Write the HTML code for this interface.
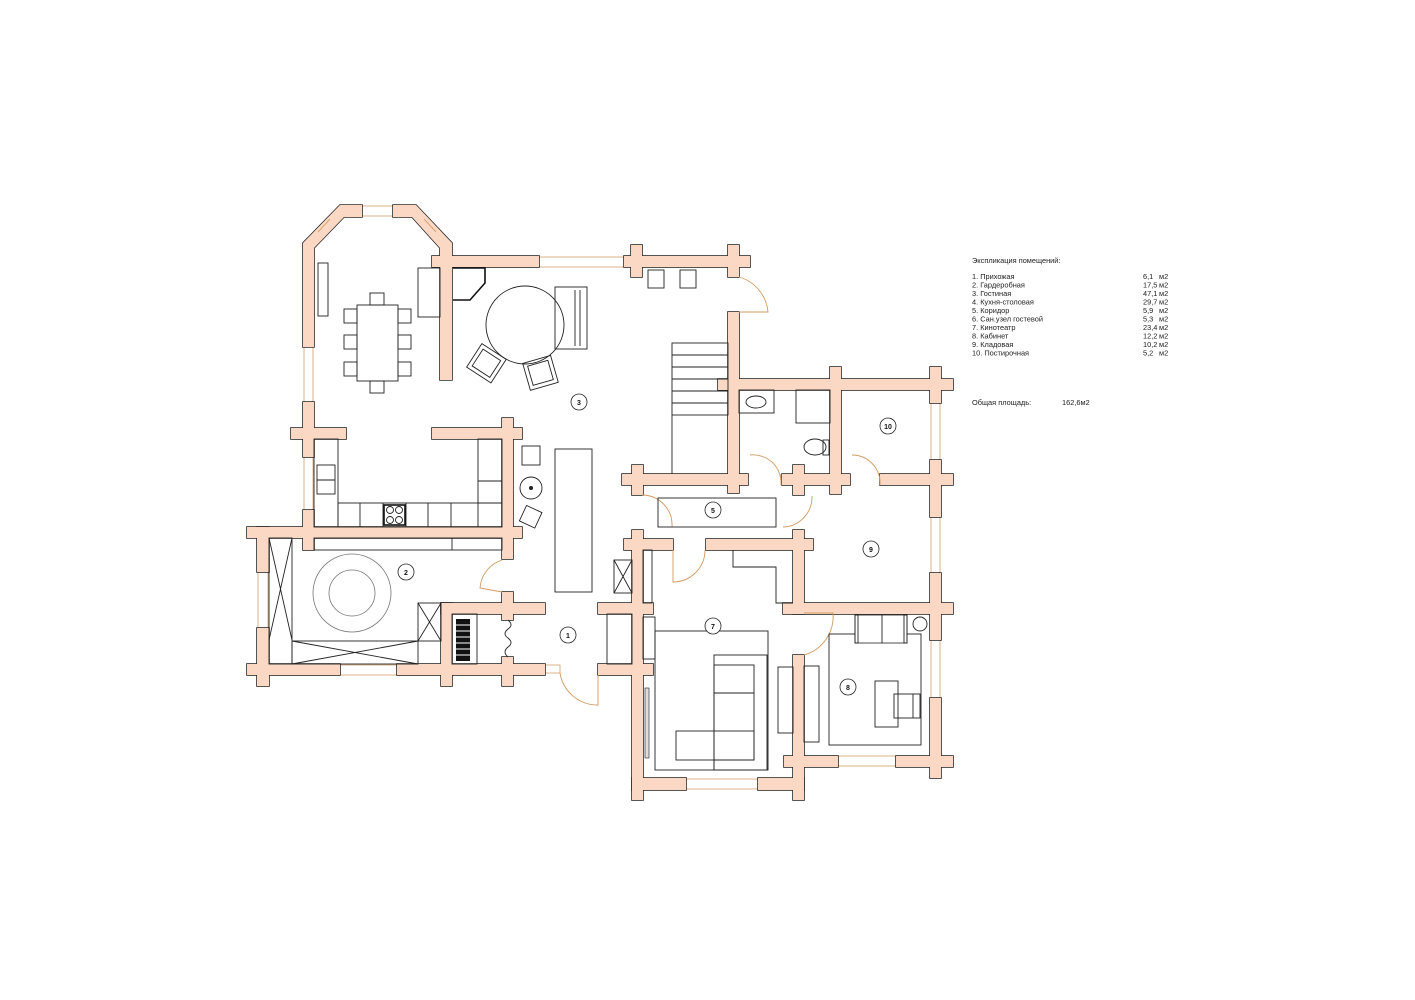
<!DOCTYPE html>
<html><head><meta charset="utf-8"><style>
html,body{margin:0;padding:0;background:#fff;width:1415px;height:1000px;overflow:hidden}
svg{position:absolute;left:0;top:0}
.win{fill:#fff;stroke:#d2a06a;stroke-width:0.8}
.l{fill:none;stroke:#222;stroke-width:0.9}
.t{fill:none;stroke:#111;stroke-width:1.6}
.d{fill:none;stroke:#d09a60;stroke-width:0.9}
.n{fill:#fff;stroke:#222;stroke-width:0.8}
.nt{font-family:"Liberation Sans",sans-serif;font-size:7px;font-weight:bold;fill:#111;text-anchor:middle}
.lg{font-family:"Liberation Sans","Noto Sans CJK SC",sans-serif;font-size:7.4px;fill:#222}
</style></head><body>
<svg width="1415" height="1000" viewBox="0 0 1415 1000">
<defs>
<g id="walls">
<polygon points="303,347 303,243 340,205 362,205 362,217 344,217 314,248 314,347"/>
<polygon points="393,205 416,205 452,243 452,380 440,380 440,248 412,217 393,217"/>
<rect x="303" y="402" width="11" height="55"/>
<rect x="291" y="428" width="55" height="11"/>
<rect x="303" y="510" width="11" height="40"/>
<rect x="432" y="256" width="107" height="11"/>
<rect x="624" y="256" width="126" height="11"/>
<rect x="631" y="245" width="11" height="32"/>
<rect x="728" y="245" width="11" height="32"/>
<rect x="728" y="312" width="11" height="181"/>
<rect x="718" y="379" width="235" height="11"/>
<rect x="830" y="367" width="11" height="127"/>
<rect x="930" y="367" width="11" height="36"/>
<rect x="930" y="460" width="11" height="57"/>
<rect x="930" y="573" width="11" height="67"/>
<rect x="930" y="698" width="11" height="80"/>
<rect x="622" y="474" width="126" height="11"/>
<rect x="632" y="465" width="11" height="30"/>
<rect x="782" y="474" width="68" height="11"/>
<rect x="793" y="465" width="11" height="30"/>
<rect x="880" y="474" width="73" height="11"/>
<rect x="624" y="539" width="49" height="11"/>
<rect x="706" y="539" width="107" height="11"/>
<rect x="793" y="530" width="11" height="84"/>
<rect x="783" y="603" width="170" height="11"/>
<rect x="632" y="530" width="11" height="270"/>
<rect x="598" y="603" width="55" height="11"/>
<rect x="598" y="664" width="55" height="11"/>
<rect x="632" y="778" width="54" height="12"/>
<rect x="758" y="778" width="46" height="12"/>
<rect x="793" y="655" width="11" height="145"/>
<rect x="784" y="756" width="54" height="11"/>
<rect x="896" y="756" width="57" height="11"/>
<rect x="432" y="428" width="90" height="11"/>
<rect x="502" y="418" width="11" height="141"/>
<rect x="247" y="527" width="275" height="11"/>
<rect x="257" y="527" width="12" height="45"/>
<rect x="257" y="628" width="12" height="58"/>
<rect x="247" y="664" width="93" height="11"/>
<rect x="397" y="664" width="148" height="11"/>
<rect x="441" y="603" width="11" height="83"/>
<rect x="441" y="603" width="104" height="11"/>
<rect x="502" y="592" width="11" height="28"/>
<rect x="502" y="657" width="11" height="29"/>
</g>
</defs>
<rect class="win" x="304" y="347" width="9" height="56"/>
<rect class="win" x="304" y="456" width="9" height="55"/>
<rect class="win" x="362" y="206" width="31" height="10"/>
<rect class="win" x="538" y="257" width="87" height="10"/>
<rect class="win" x="258" y="572" width="10" height="56"/>
<rect class="win" x="340" y="665" width="57" height="10"/>
<rect class="win" x="931" y="403" width="9" height="57"/>
<rect class="win" x="931" y="517" width="9" height="56"/>
<rect class="win" x="931" y="640" width="9" height="58"/>
<rect class="win" x="686" y="779" width="72" height="10"/>
<rect class="win" x="838" y="756" width="58" height="10"/>
<rect class="win" x="545" y="665" width="15" height="8"/>

<use href="#walls" fill="#fbd8c4" stroke="#2a2a2a" stroke-width="1.6"/>
<use href="#walls" fill="#fbd8c4" stroke="none"/>
<line class="d" x1="318" y1="232" x2="330" y2="219"/><line class="d" x1="424" y1="219" x2="436" y2="232"/>

<path class="d" d="M739,277 A40,40 0 0 1 768,312 L739,312"/>
<path class="d" d="M750,455 A28,28 0 0 1 781,485 M781,474 L781,485"/>
<path class="d" d="M852,455 A28,28 0 0 1 880,485"/>
<path class="d" d="M642,495 A30,30 0 0 1 672,527"/>
<path class="d" d="M812,496 A30,30 0 0 1 783,527"/>
<path class="d" d="M673,550 L673,582 A32,32 0 0 0 705,550"/>
<path class="d" d="M502,560 A32,32 0 0 0 480,588 L502,592"/>
<path class="d" d="M560,673 A38,38 0 0 0 598,705 L598,675"/>
<path class="d" d="M804,613 L833,613 A40,40 0 0 1 804,655"/>
<path class="l" d="M508,620 q6,5 0,9 q-6,5 0,9 q6,5 0,9 q-6,5 0,10"/>

<rect class="l" x="318" y="263" width="10" height="53"/>
<rect class="l" x="357" y="305" width="41" height="76"/>
<rect class="l" x="370" y="293" width="14" height="12"/><rect class="l" x="370" y="381" width="14" height="12"/>
<rect class="l" x="344" y="309" width="13" height="14"/><rect class="l" x="344" y="335" width="13" height="14"/><rect class="l" x="344" y="362" width="13" height="14"/>
<rect class="l" x="398" y="309" width="13" height="14"/><rect class="l" x="398" y="335" width="13" height="14"/><rect class="l" x="398" y="362" width="13" height="14"/>
<rect class="l" x="418" y="268" width="22" height="49"/>
<path class="t" d="M453,268 L485,268 L485,283 L470,300 L453,300"/>
<circle class="l" cx="525" cy="325" r="39"/>
<rect class="l" x="555" y="287" width="32" height="62"/>
<line class="l" x1="575" y1="290" x2="575" y2="346"/><line class="l" x1="580" y1="290" x2="580" y2="346"/>
<g transform="rotate(33 486 363)"><rect class="l" x="472" y="349" width="29" height="28"/><rect class="l" x="476" y="353" width="21" height="20"/></g>
<g transform="rotate(-16 540 373)"><rect class="l" x="526" y="359" width="29" height="28"/><rect class="l" x="530" y="363" width="21" height="20"/></g>
<rect class="l" x="648" y="270" width="16" height="18"/><rect class="l" x="680" y="270" width="16" height="18"/>
<rect class="l" x="672" y="343" width="56" height="72"/>
<line class="l" x1="672" y1="355" x2="728" y2="355"/><line class="l" x1="672" y1="367" x2="728" y2="367"/><line class="l" x1="672" y1="379" x2="728" y2="379"/><line class="l" x1="672" y1="391" x2="728" y2="391"/><line class="l" x1="672" y1="403" x2="728" y2="403"/>
<line class="l" x1="672" y1="415" x2="672" y2="474"/>
<rect class="l" x="314" y="439" width="24" height="88"/>
<rect class="l" x="317" y="465" width="18" height="29"/><line class="l" x1="317" y1="480" x2="335" y2="480"/>
<rect class="l" x="338" y="503" width="164" height="24"/>
<line class="l" x1="360" y1="503" x2="360" y2="527"/><line class="l" x1="383" y1="503" x2="383" y2="527"/><line class="l" x1="406" y1="503" x2="406" y2="527"/><line class="l" x1="428" y1="503" x2="428" y2="527"/><line class="l" x1="451" y1="503" x2="451" y2="527"/><line class="l" x1="478" y1="503" x2="478" y2="527"/>
<rect class="t" x="384" y="505" width="21" height="20"/>
<circle class="l" cx="390" cy="510" r="3.5"/><circle class="l" cx="399" cy="510" r="3.5"/><circle class="l" cx="390" cy="520" r="3.5"/><circle class="l" cx="399" cy="520" r="3.5"/>
<rect class="l" x="478" y="439" width="24" height="64"/><line class="l" x1="478" y1="481" x2="502" y2="481"/>
<rect class="l" x="522" y="446" width="18" height="19"/>
<circle class="l" cx="531" cy="488" r="11"/><circle cx="531" cy="488" r="2" fill="#222"/>
<g transform="rotate(25 530 517)"><rect class="l" x="522" y="508" width="17" height="17"/></g>
<rect class="l" x="555" y="449" width="37" height="143"/>
<rect class="l" x="314" y="538" width="188" height="12"/><line class="l" x1="452" y1="538" x2="452" y2="550"/>
<rect class="l" x="269" y="538" width="23" height="126"/>
<line class="l" x1="269" y1="538" x2="292" y2="640"/><line class="l" x1="292" y1="538" x2="269" y2="640"/>
<rect class="l" x="292" y="641" width="126" height="23"/>
<line class="l" x1="292" y1="641" x2="418" y2="664"/><line class="l" x1="292" y1="664" x2="418" y2="641"/>
<rect class="l" x="418" y="603" width="23" height="38"/>
<line class="l" x1="418" y1="603" x2="441" y2="641"/><line class="l" x1="441" y1="603" x2="418" y2="641"/>
<circle cx="352" cy="593" r="39" fill="none" stroke="#777" stroke-width="0.8"/>
<circle cx="352" cy="593" r="23" fill="none" stroke="#777" stroke-width="0.8"/>
<rect class="l" x="452" y="614" width="25" height="50"/>
<rect x="456" y="619" width="14" height="42" fill="#111"/>
<g stroke="#fff" stroke-width="1"><line x1="456" y1="625" x2="470" y2="625"/><line x1="456" y1="631" x2="470" y2="631"/><line x1="456" y1="637" x2="470" y2="637"/><line x1="456" y1="643" x2="470" y2="643"/><line x1="456" y1="649" x2="470" y2="649"/><line x1="456" y1="655" x2="470" y2="655"/></g>
<rect class="l" x="614" y="560" width="18" height="33"/><line class="l" x1="614" y1="560" x2="632" y2="593"/><line class="l" x1="632" y1="560" x2="614" y2="593"/>
<rect class="l" x="607" y="614" width="25" height="50"/>
<rect class="l" x="643" y="550" width="9" height="53"/>
<rect class="l" x="739" y="390" width="35" height="23"/><ellipse class="l" cx="756" cy="402" rx="10" ry="6"/>
<rect class="l" x="796" y="390" width="34" height="33"/>
<ellipse class="l" cx="815" cy="447" rx="11" ry="8"/><rect class="l" x="823" y="440" width="6" height="15"/>
<rect class="l" x="658" y="498" width="118" height="29"/>
<path class="l" d="M733,550 L733,567 L776,567 L776,603 L793,603"/>
<rect class="l" x="643" y="617" width="12" height="42"/>
<rect class="l" x="655" y="631" width="113" height="139"/>
<rect class="l" x="714" y="655" width="53" height="115"/>
<rect class="l" x="714" y="665" width="40" height="95"/>
<line class="l" x1="714" y1="693" x2="754" y2="693"/>
<rect class="l" x="676" y="731" width="78" height="29"/><line class="l" x1="714" y1="731" x2="714" y2="770"/>
<rect fill="#ddd" stroke="#222" stroke-width="0.6" x="645" y="688" width="4" height="70"/>
<rect class="l" x="778" y="667" width="15" height="66"/>
<rect class="l" x="804" y="666" width="15" height="76"/>
<rect class="l" x="829" y="634" width="92" height="111"/>
<rect class="n" x="855" y="615" width="52" height="28"/><rect class="l" x="855" y="615" width="3" height="28"/><rect class="l" x="904" y="615" width="3" height="28"/><line class="l" x1="882" y1="615" x2="882" y2="643"/>
<circle class="l" cx="920" cy="624" r="7"/>
<rect class="l" x="875" y="681" width="23" height="46"/>
<rect class="l" x="894" y="694" width="26" height="24"/><line class="l" x1="913" y1="694" x2="913" y2="718"/>

<circle class="n" cx="579" cy="402" r="8"/><text class="nt" x="579" y="405">3</text>
<circle class="n" cx="713" cy="510" r="8"/><text class="nt" x="713" y="513">5</text>
<circle class="n" cx="888" cy="426" r="8"/><text class="nt" x="888" y="429">10</text>
<circle class="n" cx="871" cy="549" r="8"/><text class="nt" x="871" y="552">9</text>
<circle class="n" cx="406" cy="572" r="8"/><text class="nt" x="406" y="575">2</text>
<circle class="n" cx="568" cy="635" r="8"/><text class="nt" x="568" y="638">1</text>
<circle class="n" cx="713" cy="626" r="8"/><text class="nt" x="713" y="629">7</text>
<circle class="n" cx="848" cy="687" r="8"/><text class="nt" x="848" y="690">8</text>

<g class="lg">
<text x="972" y="263">Экспликация помещений:</text>
<text x="972" y="279">1. Прихожая</text><text x="1143" y="279">6,1</text>
<text x="972" y="287.5">2. Гардеробная</text><text x="1143" y="287.5">17,5</text>
<text x="972" y="296">3. Гостиная</text><text x="1143" y="296">47,1</text>
<text x="972" y="304.5">4. Кухня-столовая</text><text x="1143" y="304.5">29,7</text>
<text x="972" y="313">5. Коридор</text><text x="1143" y="313">5,9</text>
<text x="972" y="321.5">6. Сан.узел гостевой</text><text x="1143" y="321.5">5,3</text>
<text x="972" y="330">7. Кинотеатр</text><text x="1143" y="330">23,4</text>
<text x="972" y="338.5">8. Кабинет</text><text x="1143" y="338.5">12,2</text>
<text x="972" y="347">9. Кладовая</text><text x="1143" y="347">10,2</text>
<text x="972" y="355.5">10. Постирочная</text><text x="1143" y="355.5">5,2</text>
<text x="1159" y="279">м2</text><text x="1159" y="287.5">м2</text><text x="1159" y="296">м2</text><text x="1159" y="304.5">м2</text><text x="1159" y="313">м2</text><text x="1159" y="321.5">м2</text><text x="1159" y="330">м2</text><text x="1159" y="338.5">м2</text><text x="1159" y="347">м2</text><text x="1159" y="355.5">м2</text>
<text x="972" y="405">Общая площадь:</text><text x="1062" y="405">162,6м2</text>
</g>
</svg>
</body></html>
